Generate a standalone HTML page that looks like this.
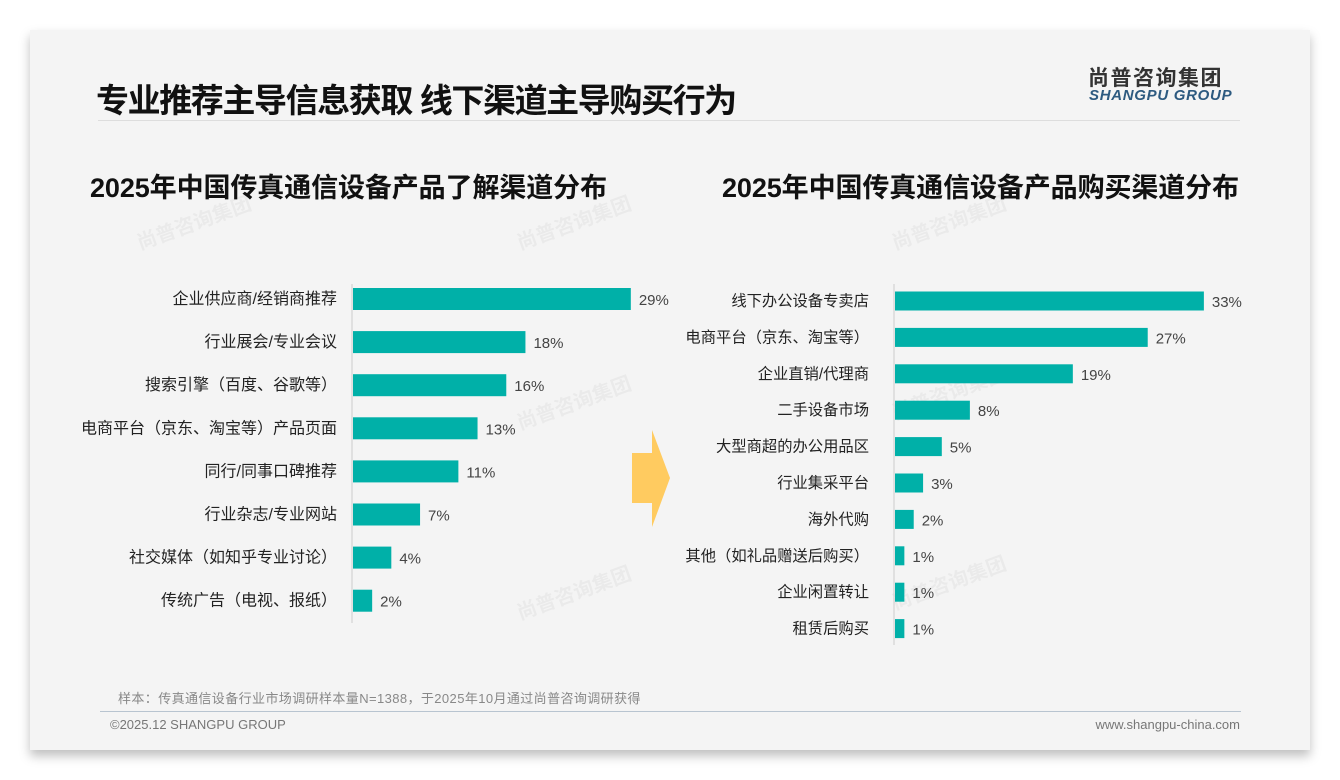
<!DOCTYPE html>
<html><head><meta charset="utf-8"><style>
body{margin:0;width:1340px;height:780px;background:#fff;overflow:hidden;font-family:"Liberation Sans","Noto Sans CJK SC",sans-serif;}
#card{position:absolute;left:30px;top:30px;width:1280px;height:720px;background:#f4f4f4;box-shadow:0 6px 10px rgba(0,0,0,0.25);}
.t{position:absolute;white-space:nowrap;}
</style></head><body>
<div id="card"></div>
<div class="t" style="left:96px;top:74px;font-size:33px;font-weight:bold;color:#111;letter-spacing:-1.4px">专业推荐主导信息获取 线下渠道主导购买行为</div>
<div class="t" style="left:1088px;top:62px;font-size:21px;font-weight:bold;color:#333;letter-spacing:1.5px">尚普咨询集团</div>
<div class="t" style="left:1089px;top:87px;font-size:15px;font-weight:bold;font-style:italic;color:#2d5a80;letter-spacing:0.7px">SHANGPU GROUP</div>
<div style="position:absolute;left:98px;top:120px;width:1142px;height:1px;background:#ddd"></div>
<svg id="chart" width="1340" height="780" style="position:absolute;left:0;top:0"></svg>
<div class="t" style="left:118px;top:688px;font-size:13px;color:#888;letter-spacing:0.4px">样本：传真通信设备行业市场调研样本量N=1388，于2025年10月通过尚普咨询调研获得</div>
<div style="position:absolute;left:100px;top:711px;width:1141px;height:1px;background:#b8c4d0"></div>
<div class="t" style="left:110px;top:717px;font-size:13px;color:#777">©2025.12 SHANGPU GROUP</div>
<div class="t" style="right:100px;top:717px;font-size:13px;color:#777">www.shangpu-china.com</div>
<script>
const leftCats=["企业供应商/经销商推荐","行业展会/专业会议","搜索引擎（百度、谷歌等）","电商平台（京东、淘宝等）产品页面","同行/同事口碑推荐","行业杂志/专业网站","社交媒体（如知乎专业讨论）","传统广告（电视、报纸）"];
const leftVals=[29,18,16,13,11,7,4,2];
const rightCats=["线下办公设备专卖店","电商平台（京东、淘宝等）","企业直销/代理商","二手设备市场","大型商超的办公用品区","行业集采平台","海外代购","其他（如礼品赠送后购买）","企业闲置转让","租赁后购买"];
const rightVals=[33,27,19,8,5,3,2,1,1,1];
const NS="http://www.w3.org/2000/svg";
const svg=document.getElementById('chart');
function mk(tag,attrs,txt){const e=document.createElementNS(NS,tag);for(const k in attrs)e.setAttribute(k,attrs[k]);if(txt!==undefined)e.textContent=txt;svg.appendChild(e);return e;}
[[140,250],[520,250],[895,250],[520,430],[520,620],[895,420],[895,610]].forEach(p=>{
 const g=mk('text',{x:p[0],y:p[1],transform:`rotate(-20 ${p[0]} ${p[1]})`,'font-size':20,'font-weight':'bold',fill:'#000','fill-opacity':0.04,'font-family':'"Liberation Sans","Noto Sans CJK SC",sans-serif'},'尚普咨询集团');
 
 
});
function chart(cats,vals,x0,scale,y0,step,bh,axTop,axBot,title,tx,name,lfs,lgap){
 const tt=mk('text',{x:tx,y:197,'font-size':27,'font-weight':'bold',fill:'#111','letter-spacing':'-0.1','font-family':'"Liberation Sans","Noto Sans CJK SC",sans-serif'},title);
 
 
 const ax=mk('line',{x1:x0,x2:x0,y1:axTop,y2:axBot,stroke:'#ccc','stroke-width':1});
 
 
 const xs=v=>x0+1+v*scale, ys=i=>y0+i*step;
 cats.forEach((c,i)=>{
  const y=ys(i);
  const b=mk('rect',{x:x0+1,y:y-bh/2,width:xs(vals[i])-x0-1,height:bh,fill:'#00b0a8'});
  
  
  const l=mk('text',{x:x0-lgap,y:y+5,'text-anchor':'end','font-size':lfs,fill:'#222','font-family':'"Liberation Sans","Noto Sans CJK SC",sans-serif'},c);
  
  
  const v=mk('text',{x:xs(vals[i])+8,y:y+6,'font-size':15,fill:'#444','font-family':'"Liberation Sans",sans-serif'},vals[i]+'%');
  
  
 });
}
chart(leftCats,leftVals,352,9.58,299,43.1,22,284,623,'2025年中国传真通信设备产品了解渠道分布',90,'awareness',16,15);
chart(rightCats,rightVals,894,9.36,301,36.4,19,284,645,'2025年中国传真通信设备产品购买渠道分布',722,'purchase',15.3,25);
const ar=mk('polygon',{points:'632,453 652,453 652,430 670,478 652,527 652,503 632,503',fill:'#ffcb60'});


</script>
</body></html>
